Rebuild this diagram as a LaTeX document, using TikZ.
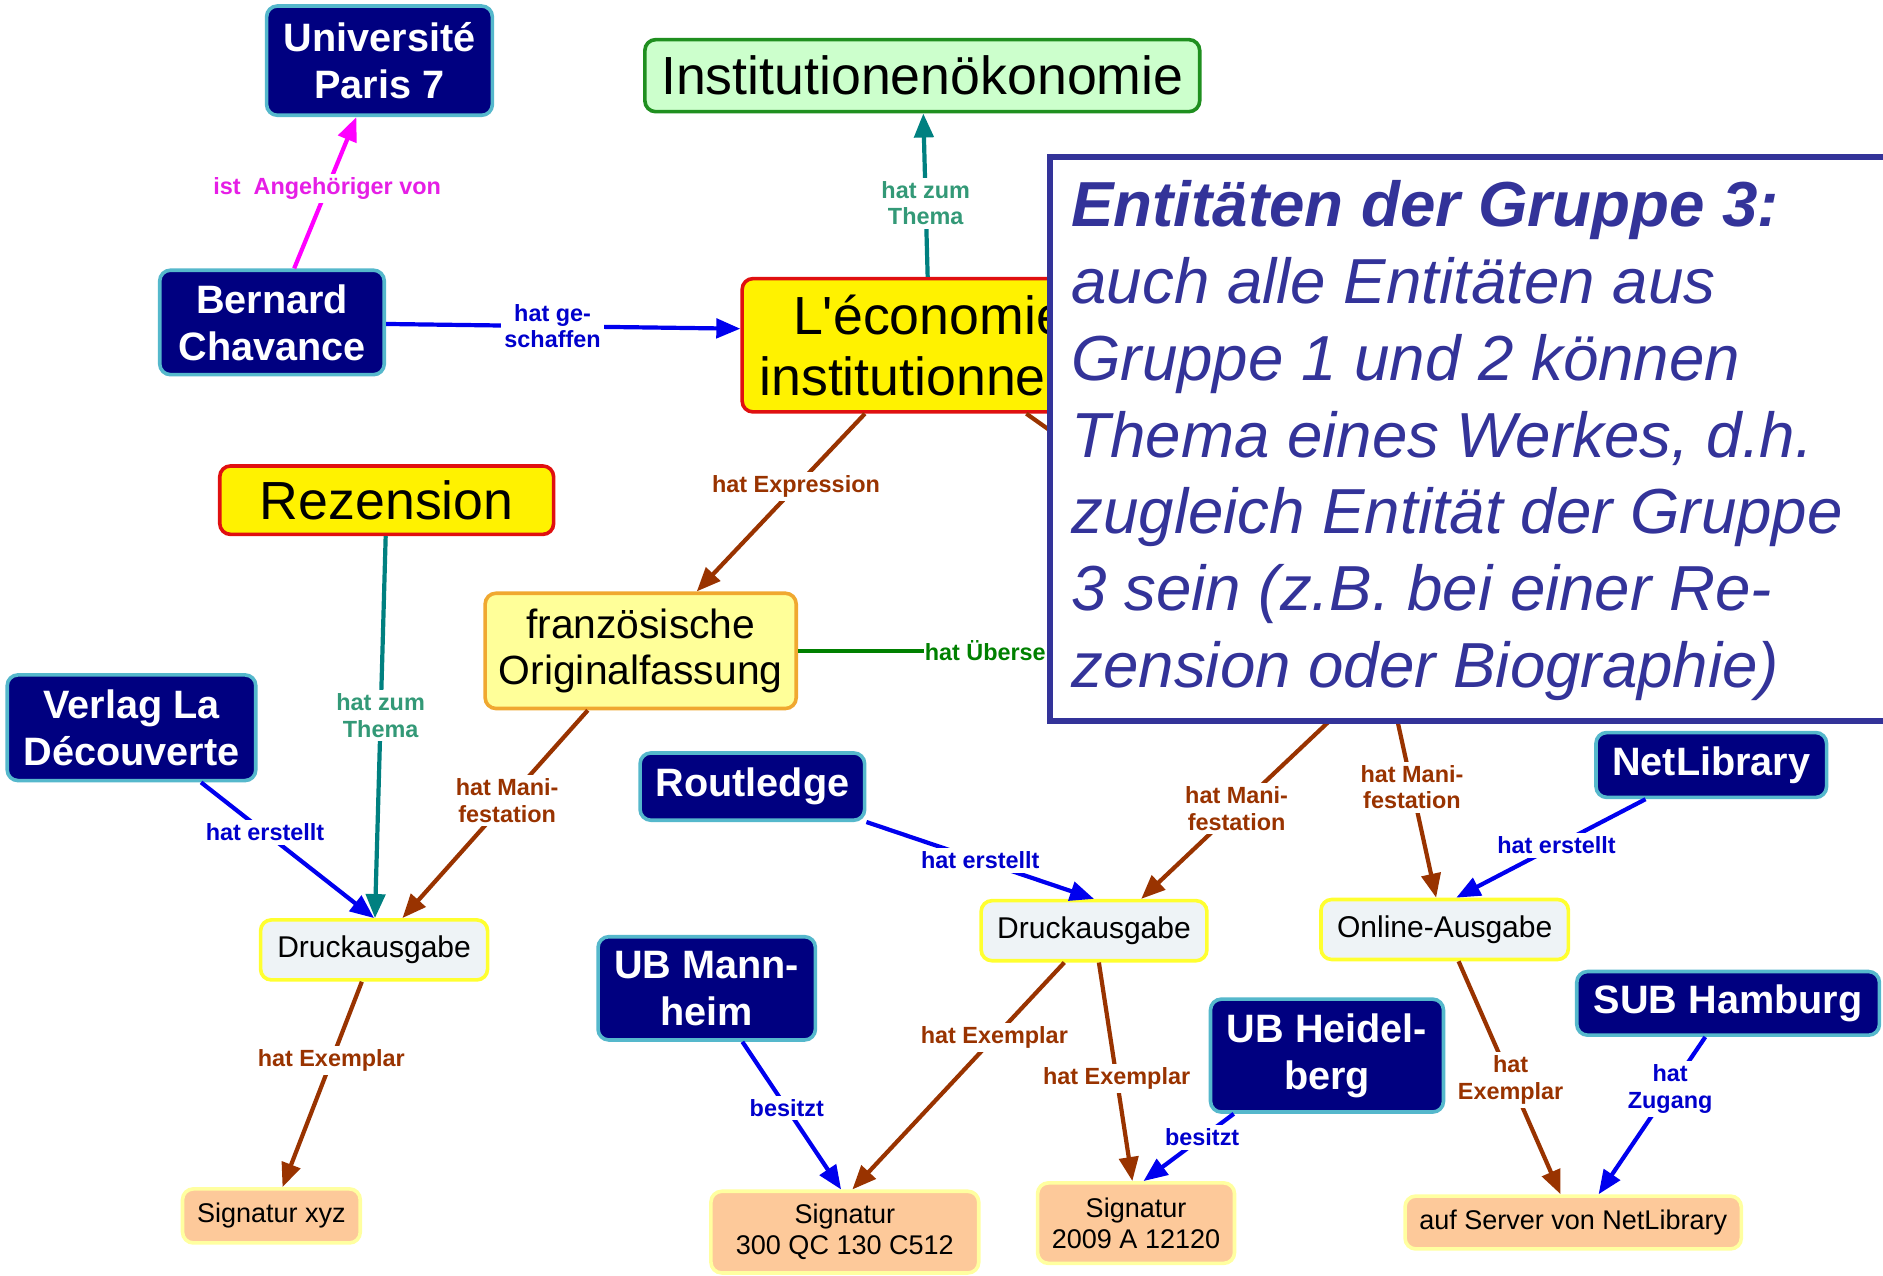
\documentclass[tikz,border=0pt]{standalone}
\usepackage{fontspec}
\setmainfont{Liberation Sans}
\newfontfamily\nomapfont{Liberation Sans}[Ligatures=TeXOff]
\usetikzlibrary{arrows.meta,calc}
\definecolor{navyfill}{HTML}{000080}
\definecolor{navyborder}{HTML}{55B8CC}
\definecolor{redborder}{HTML}{E01010}
\definecolor{greenfill}{HTML}{CCFFCC}
\definecolor{greenborder}{HTML}{1F8F1F}
\definecolor{franzfill}{HTML}{FFFF99}
\definecolor{franzborder}{HTML}{F0A830}
\definecolor{ausgfill}{HTML}{EEF3F6}
\definecolor{ausgborder}{HTML}{FFFF30}
\definecolor{sigfill}{HTML}{FDC99A}
\definecolor{sigborder}{HTML}{FFFFA0}
\definecolor{boxblue}{HTML}{333399}
\definecolor{bluecol}{HTML}{0000EE}
\definecolor{bluelab}{HTML}{0000CC}
\definecolor{browncol}{HTML}{993300}
\definecolor{brownlab}{HTML}{993300}
\definecolor{tealcol}{HTML}{008080}
\definecolor{teallab}{HTML}{339977}
\definecolor{magcol}{HTML}{FF00FF}
\definecolor{maglab}{HTML}{E61EE6}
\definecolor{greencol}{HTML}{008000}
\begin{document}
\begin{tikzpicture}[x=1pt,y=-1pt,
  arr/.style={line width=3.5pt,-{Triangle[length=20pt,width=16pt]}},
  plain/.style={line width=3.5pt},
  lab/.style={fill=white,inner sep=3pt,align=center,font=\bfseries\fontsize{19.5}{22}\selectfont},
  dark/.style={draw=navyborder,line width=3pt,fill=navyfill,rounded corners=9pt,text=white,align=center,font=\bfseries\fontsize{33}{39}\selectfont},
  yellowbox/.style={draw=redborder,line width=3pt,fill=yellow,rounded corners=9pt,align=center,font=\fontsize{44.7}{51}\selectfont},
  greenbox/.style={draw=greenborder,line width=3pt,fill=greenfill,rounded corners=9pt,align=center,font=\fontsize{44.7}{51}\selectfont},
  franzbox/.style={draw=franzborder,line width=3pt,fill=franzfill,rounded corners=9pt,align=center,font=\fontsize{34}{38}\selectfont},
  ausgbox/.style={draw=ausgborder,line width=3pt,fill=ausgfill,rounded corners=9pt,align=center,font=\fontsize{25}{29}\selectfont},
  sigbox/.style={draw=sigborder,line width=3pt,fill=sigfill,rounded corners=9pt,align=center,font=\fontsize{22.5}{26}\selectfont}
]
\useasboundingbox (0,0) rectangle (1568,1062);
\fill[white] (0,0) rectangle (1568,1062);

% nodes
\node[dark,minimum width=188,minimum height=91] (univ) at (316,50.5) {Université\\Paris 7};
\node[dark,minimum width=187,minimum height=87] (bern) at (226.5,268.5) {Bernard\\Chavance};
\node[greenbox,minimum width=462,minimum height=60] (inst) at (768,63) {Institutionenökonomie};
\node[yellowbox,minimum width=312,minimum height=111] (leco) at (774,287.5) {L{\nomapfont'}économie\\institutionnelle};
\node[yellowbox,minimum width=278,minimum height=57] (rez) at (322,416.5) {Rezension};
\node[franzbox,minimum width=259,minimum height=96] (franz) at (533.5,542) {französische\\Originalfassung};
\node[dark,minimum width=207,minimum height=88] (verlag) at (109.5,606) {Verlag La\\Découverte};
\node[ausgbox,minimum width=189,minimum height=50] (d1) at (311.5,791) {Druckausgabe};
\node[sigbox,minimum width=148,minimum height=45] (sigxyz) at (226,1012.5) {Signatur xyz};
\node[dark,minimum width=187,minimum height=56] (rout) at (626.5,655) {Routledge};
\node[ausgbox,minimum width=188,minimum height=50] (d2) at (911,775) {Druckausgabe};
\node[dark,minimum width=181,minimum height=86] (ubm) at (588.5,823) {UB Mann-\\heim};
\node[sigbox,minimum width=223,minimum height=68] (sig300) at (703.5,1026) {Signatur\\300 QC 130 C512};
\node[sigbox,minimum width=164,minimum height=67] (sig2009) at (946,1018.5) {Signatur\\2009 A 12120};
\node[dark,minimum width=194,minimum height=94] (ubh) at (1105,879) {UB Heidel-\\berg};
\node[ausgbox,minimum width=206,minimum height=50] (online) at (1203,774) {Online-Ausgabe};
\node[dark,minimum width=192,minimum height=54] (netlib) at (1425,637) {NetLibrary};
\node[dark,minimum width=252,minimum height=53] (sub) at (1439,835.5) {SUB Hamburg};
\node[sigbox,minimum width=280,minimum height=44] (server) at (1310,1018) {auf Server von NetLibrary};
\coordinate (engl) at (1154,556);

% connectors
\draw[arr,magcol] (bern) -- node[lab,text=maglab,pos=.53]{ist\ \ Angehöriger von} (univ);
\draw[arr,bluecol] (bern) -- node[lab,text=bluelab,pos=.47]{hat ge-\\schaffen} (leco.175);
\draw[arr,tealcol] (leco) -- node[lab,text=teallab,pos=.45]{hat zum\\Thema} (inst);
\draw[arr,browncol] (leco) -- node[lab,text=brownlab,pos=.41]{hat Expression} (franz);
\draw[plain,browncol] (leco) -- (engl);
\draw[plain,greencol] (franz) -- node[lab,text=greencol,pos=.21,anchor=west,inner xsep=1pt]{hat Überse} (franz -| engl);
\draw[arr,tealcol] (rez) -- node[lab,text=teallab,pos=.47]{hat zum\\Thema} (d1);
\draw[arr,bluecol] (verlag) -- node[lab,text=bluelab,pos=.37]{hat erstellt} (d1.north);
\draw[arr,browncol] (franz) -- node[lab,text=brownlab,pos=.435]{hat Mani-\\festation} (d1);
\draw[arr,browncol] (d1) -- node[lab,text=brownlab,pos=.385]{hat Exemplar} (sigxyz);
\draw[arr,bluecol] (rout.south east) -- node[lab,text=bluelab,pos=.5]{hat erstellt} (d2.north);
\draw[arr,browncol] (engl) -- node[lab,text=brownlab,pos=.61]{hat Mani-\\festation} (d2.34);
\draw[arr,browncol] (engl) -- node[lab,text=brownlab,pos=.52]{hat Mani-\\festation} (online.105);
\draw[arr,bluecol] (ubm) -- node[lab,text=bluelab,pos=.45]{besitzt} (sig300.95);
\draw[arr,browncol] (d2) -- node[lab,text=brownlab,pos=.33]{hat Exemplar} (sig300.80);
\draw[arr,browncol] (d2) -- node[lab,text=brownlab,pos=.53]{hat Exemplar} (sig2009.95);
\draw[arr,bluecol] (ubh.-148) -- node[lab,text=bluelab,pos=.35]{besitzt} (sig2009.80);
\draw[arr,bluecol] (netlib) -- node[lab,text=bluelab,pos=.47]{hat erstellt} (online.70);
\draw[arr,browncol] (online) -- node[lab,text=brownlab,pos=.51]{hat\\Exemplar} (server.114);
\draw[arr,bluecol] (sub) -- node[lab,text=bluelab,pos=.33]{hat\\Zugang} (server.48);

% text box on top
\node[draw=boxblue,line width=5pt,fill=white,minimum width=720,minimum height=470,anchor=north west,inner sep=0pt] (tbox) at (872,128) {};
\node[anchor=north west,inner sep=0pt,align=left,text=boxblue,font=\itshape\fontsize{53}{64}\selectfont] (tboxtext) at (892,150)
 {\textbf{Entitäten der Gruppe 3:}\\auch alle Entitäten aus\\Gruppe 1 und 2 können\\Thema eines Werkes, d.h.\\zugleich Entität der Gruppe\\3 sein (z.B. bei einer Re-\\zension oder Biographie)};
\end{tikzpicture}
\end{document}
